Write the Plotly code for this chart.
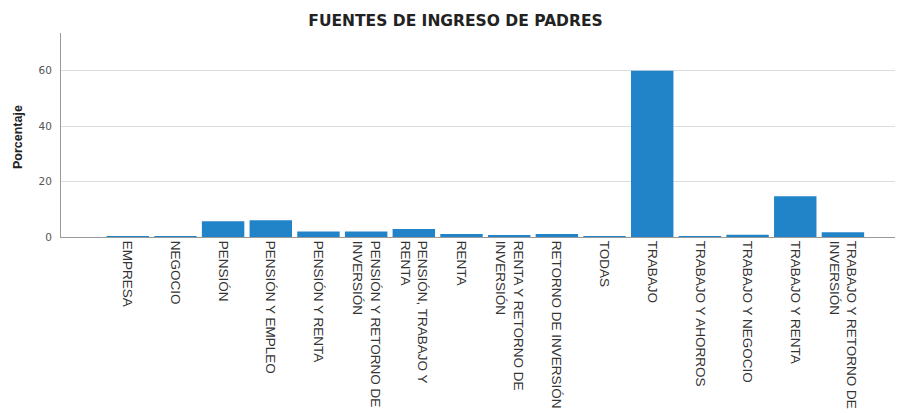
import plotly.graph_objects as go

categories = [
    "EMPRESA", "NEGOCIO", "PENSIÓN", "PENSIÓN Y EMPLEO", "PENSIÓN Y RENTA",
    "PENSIÓN Y RETORNO DE INVERSIÓN", "PENSIÓN, TRABAJO Y RENTA", "RENTA",
    "RENTA Y RETORNO DE INVERSIÓN", "RETORNO DE INVERSIÓN", "TODAS", "TRABAJO",
    "TRABAJO Y AHORROS", "TRABAJO Y NEGOCIO", "TRABAJO Y RENTA",
    "TRABAJO Y RETORNO DE INVERSIÓN",
]
tick_labels = [
    "EMPRESA", "NEGOCIO", "PENSIÓN", "PENSIÓN Y EMPLEO", "PENSIÓN Y RENTA",
    "PENSIÓN Y RETORNO DE<br>INVERSIÓN", "PENSIÓN, TRABAJO Y<br>RENTA", "RENTA",
    "RENTA Y RETORNO DE<br>INVERSIÓN", "RETORNO DE INVERSIÓN", "TODAS", "TRABAJO",
    "TRABAJO Y AHORROS", "TRABAJO Y NEGOCIO", "TRABAJO Y RENTA",
    "TRABAJO Y RETORNO DE<br>INVERSIÓN",
]
percentages = [0.3, 0.3, 5.7, 6.0, 2.0, 2.0, 2.9, 1.1, 0.6, 1.1, 0.3, 60.0,
               0.3, 0.8, 14.7, 1.7]
y_ticks = [0, 20, 40, 60]

fig = go.Figure(go.Bar(
    x=categories,
    y=percentages,
    marker=dict(color="#2284c8", line=dict(width=0)),
    width=0.89,
))

fig.update_layout(
    width=895, height=405,
    margin=dict(l=53, r=0, t=25, b=176),
    paper_bgcolor="white", plot_bgcolor="white",
    showlegend=False,
    title=dict(
        text="FUENTES DE INGRESO DE PADRES",
        font=dict(family="DejaVu Sans", size=15.5, color="#222222", weight="bold"),
        x=0.5, xanchor="center", xref="container",
        y=1 - 13 / 405, yanchor="middle", yref="container",
    ),
    xaxis=dict(
        type="category",
        range=[-1.4, 16.26],
        tickvals=categories,
        ticktext=tick_labels,
        tickangle=90,
        tickfont=dict(family="Liberation Sans", size=13.5, color="#333333"),
        showline=True, linecolor="#999999", linewidth=1,
        showgrid=False, ticks="", automargin=False,
    ),
    yaxis=dict(
        range=[0, 73.6],
        tickvals=y_ticks,
        tickfont=dict(family="DejaVu Sans", size=10.5, color="#555555"),
        showline=True, linecolor="#999999", linewidth=1,
        showgrid=True, gridcolor="#dddddd", gridwidth=1,
        zeroline=True, zerolinecolor="#999999", zerolinewidth=1,
        ticks="", ticklabelstandoff=6, automargin=False,
    ),
    annotations=[dict(
        text="Porcentaje", textangle=-90,
        x=-43 / 842, xref="paper", xanchor="center",
        y=0.49, yref="paper", yanchor="middle",
        showarrow=False,
        font=dict(family="Liberation Sans", size=12.5, color="#222222", weight="bold"),
    )],
)

fig.write_html("out.html")
